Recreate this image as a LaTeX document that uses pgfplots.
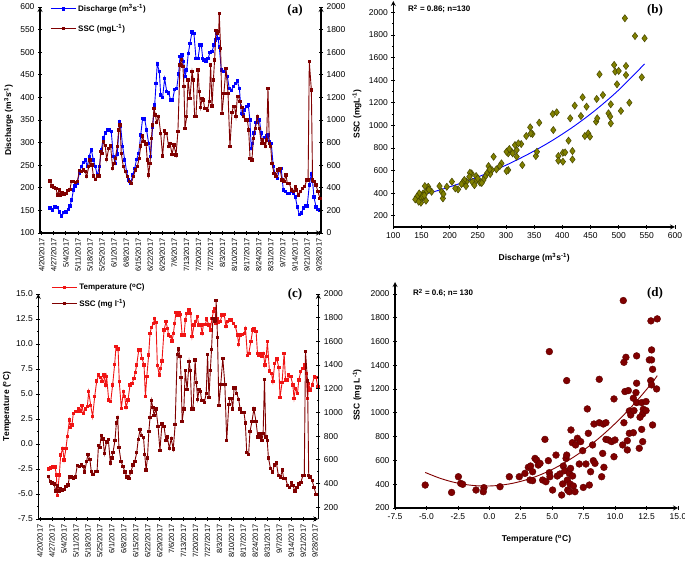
\documentclass[border=0pt]{standalone}
\usepackage{fontspec}
\setmainfont{Liberation Sans}
\newfontfamily\panelfont{Liberation Serif}
\usepackage{pgfplots}
\usepackage{pgfplotstable}
\pgfplotsset{compat=1.18}

\definecolor{qblue}{RGB}{0,0,255}
\definecolor{sscred}{RGB}{128,0,0}
\definecolor{tred}{RGB}{240,20,20}
\definecolor{olivepts}{RGB}{128,128,0}

% day = days after 4/20/2017
\pgfplotstableread{
day Q
4.8 155
6.4 151
7.7 158
9.1 157
10.2 147
11.6 138
12.9 145
14.1 147
15.5 152
16.4 160
17.4 173
18.4 195
19.3 204
20.7 211
21.8 232
23.0 247
24.2 256
25.3 262
26.5 247
27.6 270
28.8 284
30.0 262
31.1 247
32.3 228
33.5 247
34.6 284
35.8 310
36.9 321
38.1 328
39.3 328
40.4 324
41.6 269
42.7 254
43.9 275
45.1 346
45.8 337
47.0 291
48.2 262
49.3 236
50.5 217
51.7 211
52.8 228
54.0 243
55.1 263
56.3 276
57.5 317
58.6 354
59.8 352
60.9 328
62.1 298
63.3 269
64.4 335
65.6 383
66.4 431
67.1 474
68.3 457
69.1 405
70.2 400
71.4 442
72.6 413
73.7 410
74.9 394
76.0 394
77.2 418
78.4 420
79.5 452
80.3 490
81.5 494
82.4 479
83.2 446
84.2 461
85.1 497
86.1 520
87.3 545
88.4 542
89.6 486
90.8 486
91.9 516
92.7 516
93.5 486
94.2 483
95.4 479
96.6 486
97.7 499
98.9 501
100.0 516
100.8 527
101.6 542
102.4 531
103.1 512
104.3 461
105.5 457
106.6 464
107.8 446
108.9 420
110.1 416
111.3 424
112.4 431
113.6 436
114.8 420
115.9 365
116.9 362
117.9 372
119.0 380
120.0 383
120.9 350
121.7 287
122.5 298
123.3 321
124.4 344
125.2 357
126.4 350
127.5 321
128.3 302
129.5 312
130.6 315
131.4 317
132.2 302
133.3 298
134.5 247
135.7 228
136.8 221
138.0 239
139.1 243
140.3 195
141.5 192
142.6 188
143.8 188
145.0 192
146.1 188
147.3 180
148.4 158
149.6 141
150.8 144
151.9 155
153.1 160
154.2 160
155.4 206
156.6 231
157.3 214
158.1 180
159.3 158
160.4 152
161.6 150
}\dischargetab

\pgfplotstableread{
day SSC
4.8 460
6.0 416
7.1 404
8.3 395
9.1 336
10.2 380
11.0 336
11.8 357
12.9 345
14.1 351
15.3 375
16.4 386
17.2 454
18.4 454
19.5 445
20.7 454
21.8 552
23.0 543
24.2 557
25.3 543
26.1 498
27.3 587
28.0 646
29.2 602
30.0 504
31.1 475
32.3 504
33.4 504
34.2 720
35.0 705
35.8 808
36.9 776
37.7 652
38.9 749
40.0 770
41.2 572
42.0 617
42.7 661
43.9 764
44.7 912
45.5 956
46.2 705
47.4 587
48.6 543
49.7 498
50.9 454
52.0 440
53.2 498
54.4 557
55.5 587
56.6 660
57.5 770
58.6 858
59.4 808
60.6 788
61.3 646
62.1 513
62.9 617
63.7 838
64.4 956
65.2 1103
66.0 1044
66.8 976
67.9 1030
69.1 882
70.2 681
71.4 903
72.6 882
73.7 764
74.5 794
75.7 696
76.8 779
78.0 690
79.1 897
80.3 1487
81.1 1537
82.0 1472
82.6 1295
83.2 926
84.2 1030
85.0 1354
86.1 1192
87.3 1428
88.0 1354
88.8 1030
89.6 1030
90.8 1442
91.5 1251
92.3 1112
93.1 1192
93.9 1177
94.6 1103
95.4 1103
96.2 1083
97.3 1162
98.1 1487
98.9 1124
99.7 1354
100.4 1531
101.2 1791
102.0 1767
102.8 1782
103.1 1944
103.9 1634
104.7 1059
105.8 1236
107.0 1457
108.2 1236
109.3 764
110.5 1065
111.3 1118
112.0 1118
112.8 1030
113.6 1206
114.3 1206
115.1 1162
116.3 1112
117.1 1030
118.2 1000
119.4 1000
120.2 912
121.0 661
122.1 646
122.9 838
124.1 926
125.2 1030
126.4 926
127.5 794
128.3 823
129.1 794
129.9 764
130.6 823
131.4 1280
132.2 794
133.0 764
133.7 617
134.9 528
136.1 498
137.2 557
138.4 572
139.5 469
140.7 454
141.9 513
142.6 440
143.8 440
145.0 381
146.1 366
147.3 410
148.1 381
149.2 336
150.4 366
151.5 395
152.7 410
153.9 469
154.7 469
155.4 1516
156.6 1265
157.3 469
158.1 454
159.3 425
160.4 366
161.6 307
}\ssctab

\pgfplotstableread{
day T
4.9 -2.5
6.2 -2.4
7.4 -2.3
8.8 -2.3
9.6 -3.1
10.1 -5.15
11.3 -3.1
12.1 -1.1
13.3 -0.43
14.1 -1.6
15.2 -0.43
16.0 0.73
17.2 2.4
17.9 1.65
18.7 1.9
19.5 3.07
20.7 3.23
21.8 3.23
22.6 3.5
23.4 3.3
24.6 3.83
25.4 3.07
26.5 3.5
27.7 3.73
28.5 5.23
29.7 3.83
30.8 2.73
32.0 4.73
33.2 6.3
34.3 6.9
35.5 6.63
36.3 6.23
37.5 6.9
38.3 5.9
39.0 6.73
40.2 4.4
41.4 4.23
42.5 5.9
43.7 7.97
44.5 9.73
45.7 9.5
46.4 6.23
47.6 3.57
48.8 5.23
49.6 4.73
50.4 3.63
51.5 4.4
52.7 5.9
53.9 6.07
55.0 6.57
55.8 7.17
56.6 7.9
57.8 9.4
58.9 9.4
59.7 8.57
60.9 7.9
61.7 4.73
62.5 6.73
63.6 8.9
64.4 11.07
65.2 11.63
66.4 12.07
67.1 12.57
67.9 12.17
68.7 7.83
69.9 6.9
70.6 7.57
71.4 8.3
72.6 11.4
73.8 12.23
74.6 11.57
75.3 10.9
76.5 10.73
77.3 10.3
78.1 11.07
78.8 12.07
79.6 13.17
80.8 12.9
81.6 13.17
82.2 12.97
83.2 10.9
84.3 10.9
85.1 12.4
85.9 13.07
87.1 13.4
88.2 13.07
89.0 10.73
90.2 11.9
91.0 12.23
92.1 12.73
92.9 11.9
94.1 11.9
94.9 11.07
95.7 11.97
96.8 11.97
97.6 12.5
98.8 11.9
99.6 11.4
100.7 12.57
101.5 13.23
102.3 13.57
103.1 12.07
103.9 12.5
104.6 12.17
105.4 12.23
106.6 12.9
107.8 12.97
108.9 11.73
109.7 12.23
110.9 12.4
112.1 12.4
113.2 12.07
114.4 11.73
115.6 10.9
116.3 9.97
117.1 10.9
118.3 10.97
119.5 11.07
120.3 11.57
121.4 8.83
122.2 9.07
123.4 10.23
124.5 11.4
125.3 11.57
126.5 11.23
127.3 9.07
128.1 8.9
129.2 9.07
130.0 8.73
130.8 9.07
131.6 7.9
132.4 8.73
133.1 10.23
134.3 7.3
135.5 7.07
136.3 6.23
137.4 8.07
138.6 8.5
139.8 7.63
140.5 4.63
141.7 6.17
142.9 9.07
143.7 6.4
144.8 6.4
145.6 6.9
146.8 6.73
148.0 5.9
148.7 4.57
149.5 5.57
150.7 5.07
151.5 6.4
152.6 7.23
153.8 7.57
155.0 7.9
155.8 7.07
156.6 4.57
157.3 6.07
158.1 5.4
159.3 5.9
160.5 6.73
161.6 6.63
162.6 5.73
}\temptab

\pgfplotstableread{
Q SSC
511 1947
529 1790
546 1770
492 1534
513 1525
494 1475
500 1481
513 1445
541 1425
466 1451
497 1363
519 1200
504 1127
472 1268
461 1233
436 1248
443 1165
422 1174
433 1082
414 1062
383 1100
390 1115
359 1023
343 982
486 1186
482 1106
485 1077
486 1017
460 1032
462 1062
446 928
449 899
440 905
411 864
418 772
418 698
401 757
405 760
393 728
393 687
401 678
384 958
353 728
355 766
347 923
344 928
336 905
319 722
329 648
327 834
319 781
316 825
310 766
304 752
301 766
304 604
301 595
312 752
306 790
322 840
278 722
292 663
289 639
283 610
275 604
272 569
269 639
271 610
266 574
263 545
260 516
254 492
248 516
247 551
239 574
236 580
235 545
230 501
229 462
226 516
223 492
221 480
240 500
250 530
257 490
244 470
215 433
210 442
204 501
195 456
186 412
188 353
189 392
182 462
168 412
162 456
159 412
156 462
153 397
158 333
150 353
149 315
146 397
142 368
139 344
145 324
152 374
155 380
163 430
}\qsctab

\pgfplotstableread{
Q SSC
140 368
180 424
220 488
260 562
300 647
340 746
380 859
420 989
460 1139
500 1312
546 1543
}\qfittab

\pgfplotstableread{
T SSC
10.65 1944
12.85 1773
13.35 1790
4.77 1515
12.9 1529
10.86 1467
10.7 1425
11.71 1479
12.72 1445
12.9 1445
12.98 1366
6.15 1271
8.74 1282
12.83 1271
12.9 1235
13.3 1201
11.71 1249
10.78 1179
11.05 1187
11.66 1170
9.91 1117
11.45 1123
11.71 1086
12.11 1086
12.46 1095
11.13 1016
11.24 982
11.5 1019
12.24 1030
12.19 991
12.46 1019
11.98 963
7.79 1033
-5.1 393
-3.0 331
-2.46 463
-2.28 407
-2.12 399
-1.06 351
-0.43 371
-0.48 337
0.85 379
1.59 463
2.38 463
2.83 491
3.1 542
3.28 553
3.23 435
3.44 505
3.44 430
3.63 617
3.76 603
3.89 561
4.03 575
4.24 435
4.42 777
4.5 421
4.69 598
4.77 497
4.82 463
5.03 351
5.3 645
5.4 469
5.62 486
5.75 309
5.83 402
5.88 553
6.0 514
6.1 617
6.15 645
6.2 435
6.23 351
6.36 491
6.36 337
6.41 402
6.46 533
6.49 856
6.6 749
6.62 469
6.68 385
6.81 337
6.86 730
7.0 786
7.15 570
7.26 758
7.42 682
7.47 373
7.68 570
7.87 828
7.95 393
8.05 505
8.21 730
8.27 598
8.4 575
8.32 906
8.74 917
8.93 463
9.01 659
9.06 906
9.11 542
9.27 917
9.27 777
9.46 772
9.72 758
9.91 631
9.99 772
10.6 730
10.7 917
10.97 766
10.97 688
11.13 828
11.45 833
11.92 702
12.11 861
12.19 758
12.98 898
}\tsctab

\pgfplotstableread{
T SSC
-5.1 499
-4 453
-3 421
-2 399
-1 387
0 385
1 393
2 411
3 439
4 477
5 524
6 582
7 649
8 726
9 813
10 910
11 1017
12 1134
13 1261
13.35 1313
}\tfittab

\pgfplotsset{
  orig/.style={
    scale only axis, anchor=south west,
    tick align=outside,
    major tick length=4pt, minor tick length=2pt,
    tick style={black, line width=0.7pt},
    axis line style={-, line width=1.2pt},
    tick label style={font=\fontsize{8.5}{9}\selectfont},
    label style={font=\bfseries\fontsize{8.5}{10}\selectfont},
    /pgf/number format/assume math mode=true,
    /pgf/number format/1000 sep={},
    legend cell align=left,
    legend image code/.code={\draw[##1,mark repeat=2,mark phase=2] plot coordinates {(0pt,0pt) (12.5pt,0pt) (25pt,0pt)};},
  },
  datex/.style={
    xmin=-1, xtick={0,7,...,161},
    xticklabels={4/20/2017,4/27/2017,5/4/2017,5/11/2017,5/18/2017,5/25/2017,6/1/2017,6/8/2017,6/15/2017,6/22/2017,6/29/2017,7/6/2017,7/13/2017,7/20/2017,7/27/2017,8/3/2017,8/10/2017,8/17/2017,8/24/2017,8/31/2017,9/7/2017,9/14/2017,9/21/2017,9/28/2017},
    xticklabel style={rotate=90, anchor=east, font=\fontsize{7.5}{8}\selectfont},
  },
  oneplace/.style={
    fixed, fixed zerofill, precision=1,
  },
}

\begin{document}
\begin{tikzpicture}
\path[use as bounding box] (0pt,0pt) rectangle (685pt,562pt);

% ---------- (a) ----------
\begin{axis}[orig, datex, at={(40pt,329pt)}, width=281pt, height=226pt,
  xmax=162.2, ymin=100, ymax=600, ytick={100,150,...,600}, minor y tick num=1,
  axis x line=bottom, axis y line=left,
  ylabel={Discharge (m\textsuperscript{3}s\textsuperscript{-1})},
  ylabel style={at={(axis description cs:-0.112,0.5)}, anchor=center}]
\addplot[qblue, line width=0.9pt, mark=square*, mark size=1.2pt] table[x=day, y=Q] {\dischargetab};
\end{axis}
\begin{axis}[orig, at={(40pt,329pt)}, width=281pt, height=226pt,
  xmin=-1, xmax=162.2, ymin=0, ymax=2000, ytick={0,200,...,2000}, minor y tick num=1,
  axis x line=none, axis y line=right,
  legend style={at={(axis description cs:0.036,1.02)}, anchor=north west, draw=none, fill=none,
    font=\bfseries\fontsize{8}{9}\selectfont, row sep=7pt, inner sep=0pt}]
\addlegendimage{qblue, line width=0.9pt, mark=square*, mark size=1.2pt}
\addlegendentry{Discharge (m\textsuperscript{3}s\textsuperscript{-1})}
\addplot[sscred, line width=0.9pt, mark=square*, mark size=1.2pt] table[x=day, y=SSC] {\ssctab};
\addlegendentry{SSC (mgL\textsuperscript{-1})}
\end{axis}

% ---------- (b) ----------
\begin{axis}[orig, at={(393.3pt,335pt)}, width=281.7pt, height=226pt,
  xmin=100, xmax=600, xtick={100,150,...,600}, minor x tick num=1,
  ymin=100, ymax=2100, ytick={200,400,...,2000}, minor y tick num=1,
  axis x line=bottom, axis y line=left,
  xlabel={Discharge (m\textsuperscript{3}s\textsuperscript{-1})},
  xlabel style={at={(axis description cs:0.5,-0.137)}, anchor=center},
  ylabel={SSC (mgL\textsuperscript{-1})},
  ylabel style={at={(axis description cs:-0.129,0.5)}, anchor=center}]
\addplot[only marks, mark=diamond*, mark size=3.6pt,
  mark options={fill=olivepts, draw=olivepts!55!black, line width=0.5pt}] table[x=Q, y=SSC] {\qsctab};
\addplot[blue, line width=0.9pt, smooth, no markers] table[x=Q, y=SSC] {\qfittab};
\end{axis}

% ---------- (c) ----------
\begin{axis}[orig, datex, at={(38.3pt,43pt)}, width=280pt, height=225pt,
  xmax=162.9, ymin=-7.5, ymax=15, ytick={-7.5,-5,...,15}, minor y tick num=1,
  yticklabel style={/pgf/number format/.cd, oneplace},
  axis x line=bottom, axis y line=left,
  ylabel={Temperature (\textsuperscript{o}C)},
  ylabel style={at={(axis description cs:-0.112,0.5)}, anchor=center}]
\addplot[tred, line width=0.9pt, mark=square*, mark size=1.2pt] table[x=day, y=T] {\temptab};
\end{axis}
\begin{axis}[orig, at={(38.3pt,43pt)}, width=280pt, height=225pt,
  xmin=-1, xmax=162.9, ymin=100, ymax=2000, ytick={200,400,...,2000}, minor y tick num=1,
  axis x line=none, axis y line=right,
  legend style={at={(axis description cs:0.046,1.055)}, anchor=north west, draw=none, fill=none,
    font=\bfseries\fontsize{8}{9}\selectfont, row sep=4pt, inner sep=0pt}]
\addlegendimage{tred, line width=0.9pt, mark=square*, mark size=1.2pt}
\addlegendentry{Temperature (\textsuperscript{o}C)}
\addplot[sscred, line width=0.9pt, mark=square*, mark size=1.2pt] table[x=day, y=SSC] {\ssctab};
\addlegendentry{SSC (mg l\textsuperscript{-1})}
\end{axis}

% ---------- (d) ----------
\begin{axis}[orig, at={(395pt,54pt)}, width=283pt, height=226pt,
  xmin=-7.5, xmax=15, xtick={-7.5,-5,...,15}, minor x tick num=1,
  xticklabel style={/pgf/number format/.cd, oneplace},
  ymin=200, ymax=2100, ytick={200,400,...,2000}, minor y tick num=1,
  axis x line=bottom, axis y line=left,
  xlabel={Temperature (\textsuperscript{o}C)},
  xlabel style={at={(axis description cs:0.5,-0.138)}, anchor=center},
  ylabel={SSC (mg L\textsuperscript{-1})},
  ylabel style={at={(axis description cs:-0.134,0.5)}, anchor=center}]
\addplot[only marks, mark=*, mark size=3.4pt,
  mark options={fill=sscred, draw=sscred!75!black, line width=0.4pt}] table[x=T, y=SSC] {\tsctab};
\addplot[sscred, line width=0.9pt, smooth, no markers] table[x=T, y=SSC] {\tfittab};
\end{axis}

% panel letters and notes
\node[font=\panelfont\bfseries\fontsize{13}{13}\selectfont] at (295pt,552pt) {(a)};
\node[font=\panelfont\bfseries\fontsize{13}{13}\selectfont] at (655pt,552pt) {(b)};
\node[font=\panelfont\bfseries\fontsize{13}{13}\selectfont] at (295pt,267.5pt) {(c)};
\node[font=\panelfont\bfseries\fontsize{13}{13}\selectfont] at (655pt,269pt) {(d)};
\node[anchor=west, inner sep=0pt, font=\bfseries\fontsize{8}{9}\selectfont] at (408pt,553pt) {R\textsuperscript{2} = 0.86; n=130};
\node[anchor=west, inner sep=0pt, font=\bfseries\fontsize{8}{9}\selectfont] at (413pt,269pt) {R\textsuperscript{2} = 0.6; n= 130};
\end{tikzpicture}
\end{document}
